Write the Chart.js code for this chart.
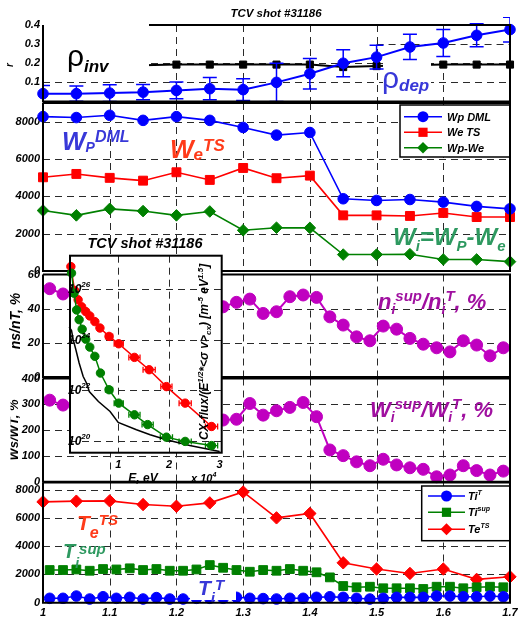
<!DOCTYPE html>
<html>
<head>
<meta charset="utf-8">
<script src="https://cdn.jsdelivr.net/npm/chart.js@4.4.1/dist/chart.umd.min.js"></script>
<style>
  html, body { margin: 0; padding: 0; background: #fff; }
  #wrap { position: relative; width: 522px; height: 619px; overflow: hidden; background: #fff; }
  #wrap canvas { position: absolute; left: 0; top: 0; }
</style>
</head>
<body>
<div id="wrap">
  <canvas id="cRho" width="522" height="619"></canvas>
  <canvas id="cEnergy" width="522" height="619"></canvas>
  <canvas id="cDens" width="522" height="619"></canvas>
  <canvas id="cWrat" width="522" height="619"></canvas>
  <canvas id="cTemp" width="522" height="619"></canvas>
  <canvas id="cFlux" width="522" height="619"></canvas>
</div>
<script>
// ---------- time bases (s) ----------
const shotTimes = [1.00, 1.05, 1.10, 1.15, 1.20, 1.25, 1.30, 1.35, 1.40, 1.45, 1.50, 1.55, 1.60, 1.65, 1.70];
const fineTimes = [1.01, 1.03, 1.05, 1.07, 1.09, 1.11, 1.13, 1.15, 1.17, 1.19, 1.21, 1.23, 1.25, 1.27, 1.29, 1.31, 1.33, 1.35,
                   1.37, 1.39, 1.41, 1.43, 1.45, 1.47, 1.49, 1.51, 1.53, 1.55, 1.57, 1.59, 1.61, 1.63, 1.65, 1.67, 1.69];
const timeTicks = [1.0, 1.1, 1.2, 1.3, 1.4, 1.5, 1.6, 1.7];
const timeTickLabels = ['1', '1.1', '1.2', '1.3', '1.4', '1.5', '1.6', '1.7'];

// ---------- deposition and inversion radius ----------
const rhoDep    = [0.041, 0.041, 0.044, 0.049, 0.058, 0.067, 0.062, 0.100, 0.145, 0.200, 0.232, 0.285, 0.306, 0.346, 0.376];
const rhoDepErr = [0.043, 0.040, 0.044, 0.040, 0.044, 0.058, 0.057, 0.100, 0.080, 0.070, 0.062, 0.066, 0.071, 0.060, 0.065];
const rhoInvTimes = [1.15, 1.20, 1.25, 1.30, 1.35, 1.40, 1.45, 1.50, 1.55, 1.60, 1.65, 1.70];
const rhoInv      = [0.190, 0.193, 0.193, 0.193, 0.193, 0.193, 0.180, 0.185, 0.190, 0.193, 0.193, 0.193];
const rhoTicks  = [0.1, 0.2, 0.3, 0.4];
const rhoLabels = ['0.1', '0.2', '0.3', '0.4'];

// ---------- stored energy (J) ----------
const wpDML = [8270, 8220, 8340, 8070, 8270, 8070, 7690, 7280, 7420, 3870, 3780, 3830, 3690, 3460, 3330];
const weTS  = [5020, 5200, 4990, 4840, 5290, 4880, 5520, 4970, 5110, 2980, 2980, 2950, 3110, 2890, 2890];
const wiDiff = [3240, 2980, 3330, 3210, 2980, 3190, 2180, 2320, 2310, 880, 880, 900, 620, 620, 500];
const energyTicks  = [0, 2000, 4000, 6000, 8000];
const energyLabels = ['0', '2000', '4000', '6000', '8000'];

// ---------- suprathermal fractions (%) ----------
const nRatio = [51.7, 48.6, null, null, null, null, null, null, null, null, null, null, null,
                41.1, 43.7, 45.6, 37.2, 38.2, 47.0, 48.0, 46.6, 35.2, 30.4, 23.5, 21.2, 29.8, 28.0,
                22.6, 19.2, 17.1, 14.7, 21.2, 18.7, 12.4, 17.1];
const nTicks  = [0, 20, 40, 60];
const nLabels = ['0', '20', '40', '60'];
const wRatio = [316, 297, null, null, null, null, null, null, null, null, null, null, null,
                239, 242, 303, 258, 275, 288, 307, 252, 123, 101, 77, 62, 87, 65,
                54, 48, 19, 26, 62, 43, 26, 41];
const wTicks  = [0, 100, 200, 300, 400];
const wLabels = ['0', '100', '200', '300', '400'];

// ---------- temperatures (eV) ----------
const teTS  = [7130, 7180, 7200, 6940, 6820, 7060, 7830, 6000, 6310, 2820, 2380, 2070, 2380, 1650, 1830];
const tiSup = [2310, 2310, 2350, 2260, 2380, 2350, 2430, 2310, 2380, 2260, 2260, 2350, 2660, 2470, 2310, 2190, 2310, 2260,
               2380, 2260, 2150, 1790, 1180, 1090, 1130, 1020, 1020, 1020, 970, 1130, 1130, 1020, 1090, 1130, 1090];
const tiT   = [310, 310, 470, 260, 420, 310, 380, 260, 360, 260, 260, 310, 310, 310, 380, 310, 290, 260,
               310, 310, 380, 420, 380, 310, 260, 310, 380, 380, 380, 470, 470, 420, 420, 470, 420];
const tempTicks  = [0, 2000, 4000, 6000, 8000];
const tempLabels = ['0', '2000', '4000', '6000', '8000'];

// ---------- CX spectrum (E in 1e4 eV) ----------
const redE      = [0.067, 0.14, 0.21, 0.28, 0.36, 0.44, 0.54, 0.64, 0.82, 1.01, 1.32, 1.61, 1.95, 2.32, 2.84];
const redFlux   = [7.8e26, 8.9e25, 3.8e25, 2.0e25, 1.3e25, 8.7e24, 5.2e24, 2.9e24, 1.35e24, 6.9e23, 2.0e23, 6.5e22, 1.4e22, 3.1e21, 3.7e20];
const redErrE   = [0, 0, 0, 0, 0, 0, 0, 0, 0.07, 0.09, 0.11, 0.12, 0.11, 0.12, 0.12];
const greenE    = [0.08, 0.13, 0.18, 0.23, 0.29, 0.36, 0.44, 0.54, 0.65, 0.82, 1.01, 1.32, 1.58, 1.95, 2.32, 2.84];
const greenFlux = [4.3e26, 6.9e25, 1.5e25, 6.2e24, 2.6e24, 1.05e24, 5.1e23, 2.2e23, 4.8e22, 1.05e22, 3.1e21, 1.07e21, 4.4e20, 1.4e20, 9.5e19, 6.5e19];
const greenErrE = [0, 0, 0, 0, 0, 0, 0, 0, 0, 0.07, 0.09, 0.11, 0.11, 0.12, 0.12, 0.12];
const blackE    = [0.034, 0.08, 0.113, 0.166, 0.23, 0.31, 0.377, 0.43, 0.61, 0.84, 1.0, 1.36, 1.63, 1.95, 2.41, 3.0];
const blackFlux = [3.2e24, 2.3e24, 1.0e24, 4.0e23, 1.2e23, 3.5e22, 1.9e22, 8.9e21, 3.6e21, 1.45e21, 5.4e20, 2.75e20, 1.74e20, 1.1e20, 6.5e19, 3.8e19];
const fluxTicks = [1e20, 1e22, 1e24, 1e26];
const fluxExp   = ['20', '22', '24', '26'];
const energyKeVTicks  = [1, 2, 3];
const energyKeVLabels = ['1', '2', '3'];

// ---------- shared styling ----------
const FAMILY = '"Liberation Sans", Arial, Helvetica, sans-serif';
const TICK_FONT = { family: FAMILY, size: 11, style: 'italic', weight: 'bold' };
const BLUE = '#0000ff', RED = '#ff0000', GREEN = '#008000', PURPLE = '#c000c0';
const T_BLUE = '#3838d8', T_RED = '#ff3b1a', T_GREEN = '#2e9960', T_PURPLE = '#a010a0';
const GRID = '#2a2a2a';

const pts = (xs, ys) => xs.map((x, i) => ({ x: x, y: ys[i] }));
const fnt = (size, weight, style) => `${style || 'italic'} ${weight || 'bold'} ${size}px ${FAMILY}`;

// text with sub/superscript runs: parts = [[text, 0|1|2]] (0 normal, 1 sub, 2 sup)
function drawRich(ctx, parts, x, y, o) {
  const segs = parts.map(([t, k]) => ({
    t, k, f: fnt(k === 1 ? (o.subSize || o.small) : k === 2 ? (o.supSize || o.small) : o.size)
  }));
  let w = 0;
  segs.forEach(s => { ctx.font = s.f; s.w = ctx.measureText(s.t).width; w += s.w; });
  let cx = o.align === 'center' ? x - w / 2 : o.align === 'right' ? x - w : x;
  ctx.fillStyle = o.color || '#000';
  ctx.textAlign = 'left';
  ctx.textBaseline = 'alphabetic';
  segs.forEach(s => {
    ctx.font = s.f;
    const dy = s.k === 1 ? (o.subDy || 0) : s.k === 2 ? -(o.supDy || 0) : 0;
    ctx.fillText(s.t, cx, y + dy);
    cx += s.w;
  });
  return w;
}

function drawMarker(ctx, kind, x, y, r, color) {
  ctx.save();
  ctx.fillStyle = color;
  ctx.beginPath();
  if (kind === 'circle') ctx.arc(x, y, r, 0, Math.PI * 2);
  else if (kind === 'rect') ctx.rect(x - r, y - r, 2 * r, 2 * r);
  else { ctx.moveTo(x, y - r); ctx.lineTo(x + r, y); ctx.lineTo(x, y + r); ctx.lineTo(x - r, y); ctx.closePath(); }
  ctx.fill();
  ctx.restore();
}

function drawLegend(ctx, box, entries) {
  ctx.save();
  ctx.fillStyle = '#fff';
  ctx.fillRect(box.x, box.y, box.w, box.h);
  ctx.strokeStyle = '#000';
  ctx.lineWidth = 1.5;
  ctx.strokeRect(box.x, box.y, box.w, box.h);
  entries.forEach(e => {
    ctx.strokeStyle = e.color;
    ctx.lineWidth = 1.5;
    ctx.beginPath();
    ctx.moveTo(box.lx0, e.y); ctx.lineTo(box.lx1, e.y);
    ctx.stroke();
    drawMarker(ctx, e.marker, (box.lx0 + box.lx1) / 2, e.y, e.r, e.color);
    drawRich(ctx, e.parts, box.tx, e.y + 4, { size: 11, small: 7, supDy: 5, color: '#000' });
  });
  ctx.restore();
}

function dashedLine(ctx, x0, y0, x1, y1) {
  ctx.beginPath(); ctx.moveTo(x0, y0); ctx.lineTo(x1, y1); ctx.stroke();
}

// per-panel decoration: dashed grid, frame, extra drawing hooks
function panelPlugin(o) {
  return {
    id: 'decor_' + o.name,
    beforeDatasetsDraw(chart) {
      const { ctx, chartArea: a, scales: { x, y } } = chart;
      ctx.save();
      ctx.strokeStyle = GRID;
      ctx.lineWidth = 1;
      ctx.setLineDash([7, 5]);
      (o.vGrid || []).forEach(v => {
        const px = Math.round(x.getPixelForValue(v)) + 0.5;
        dashedLine(ctx, px, a.top, px, a.bottom);
      });
      (o.hGrid || []).forEach(g => {
        const val = typeof g === 'number' ? g : g.v;
        const x0 = (typeof g === 'object' && g.from != null) ? x.getPixelForValue(g.from) : a.left;
        const py = Math.round(y.getPixelForValue(val)) + 0.5;
        dashedLine(ctx, x0, py, a.right, py);
      });
      ctx.restore();
    },
    beforeDatasetDraw(chart, args) {
      if (o.between && args.index === 0) o.between(chart);
    },
    afterDatasetsDraw(chart) {
      if (o.over) o.over(chart);
    },
    afterDraw(chart) {
      const { ctx, chartArea: a } = chart;
      ctx.save();
      ctx.strokeStyle = '#000';
      ctx.lineWidth = 2;
      ctx.setLineDash([]);
      ctx.beginPath();
      const topStart = o.topStart != null ? o.topStart : a.left;
      ctx.moveTo(topStart, a.top); ctx.lineTo(a.right, a.top);
      ctx.lineTo(a.right, a.bottom); ctx.lineTo(a.left, a.bottom);
      ctx.lineTo(a.left, a.top);
      ctx.stroke();
      ctx.restore();
      if (o.after) o.after(chart);
    }
  };
}

function makePanel(id, o) {
  return new Chart(document.getElementById(id), {
    type: 'line',
    data: { datasets: o.datasets },
    options: {
      responsive: false, animation: false, devicePixelRatio: 1, events: [],
      layout: { padding: { left: 0, right: 12, top: o.top, bottom: o.padBottom } },
      plugins: { legend: { display: false }, tooltip: { enabled: false } },
      elements: { line: { tension: 0 } },
      scales: {
        x: {
          type: 'linear', min: 1, max: 1.7, display: !!o.showX,
          afterFit: s => { s.height = o.showX ? 16 : 0; },
          afterBuildTicks: s => { s.ticks = timeTicks.map(v => ({ value: v })); },
          ticks: { autoSkip: false, maxRotation: 0, padding: 4, font: TICK_FONT, color: '#000',
                   callback: (v, i) => timeTickLabels[i] },
          grid: { display: false, drawTicks: false }, border: { display: false }
        },
        y: {
          type: 'linear', min: o.yMin, max: o.yMax,
          afterFit: s => { s.width = 43; },
          afterBuildTicks: s => { s.ticks = o.yTicks.map(v => ({ value: v })); },
          ticks: { padding: 3, font: TICK_FONT, color: '#000', callback: (v, i) => o.yLabels[i] },
          grid: { display: false, drawTicks: false }, border: { display: false }
        }
      }
    },
    plugins: [panelPlugin(o)]
  });
}

const series = (xs, ys, color, style, r, extra) => Object.assign({
  data: pts(xs, ys), borderColor: color, backgroundColor: color, pointBackgroundColor: color,
  pointBorderColor: color, pointBorderWidth: 1, borderWidth: 1.6, pointStyle: style,
  pointRadius: r, clip: false, spanGaps: true
}, extra || {});

// ---------- panel 1: radii ----------
makePanel('cRho', {
  name: 'rho', top: 25, padBottom: 619 - 101.5, yMin: 0, yMax: 0.4,
  yTicks: rhoTicks, yLabels: rhoLabels, topStart: 149,
  vGrid: [1.2, 1.3, 1.4, 1.5, 1.6],
  hGrid: [0.1, 0.2, { v: 0.3, from: 1.5 }],
  datasets: [
    series(shotTimes, rhoDep, BLUE, 'circle', 5.3, { borderWidth: 2 }),
    series(rhoInvTimes, rhoInv, '#000', 'rect', 5, { borderWidth: 2, spanGaps: false })
  ],
  between(chart) {
    const { ctx, chartArea: a, scales: { x, y } } = chart;
    ctx.save();
    ctx.fillStyle = '#fff';
    ctx.fillRect(a.left + 1, a.top - 2, 149 - a.left - 1, 72 - a.top + 2);
    ctx.fillRect(383, 59, 48, a.bottom - 60);
    // error bars of the deposition radius
    ctx.beginPath(); ctx.rect(a.left, a.top - 8, a.width, a.height + 8); ctx.clip();
    ctx.strokeStyle = BLUE; ctx.lineWidth = 1.5;
    shotTimes.forEach((t, i) => {
      const px = x.getPixelForValue(t);
      const y0 = y.getPixelForValue(rhoDep[i] - rhoDepErr[i]);
      const y1 = y.getPixelForValue(rhoDep[i] + rhoDepErr[i]);
      ctx.beginPath();
      ctx.moveTo(px, y0); ctx.lineTo(px, y1);
      ctx.moveTo(px - 7, y0); ctx.lineTo(px + 7, y0);
      ctx.moveTo(px - 7, y1); ctx.lineTo(px + 7, y1);
      ctx.stroke();
    });
    ctx.restore();
  },
  after(chart) {
    const { ctx } = chart;
    ctx.save();
    drawRich(ctx, [['TCV shot #31186', 0]], 276, 17, { size: 11.5, align: 'center' });
    ctx.fillStyle = '#000';
    ctx.font = `normal normal 30px ${FAMILY}`;
    ctx.fillText('\u03C1', 67, 66);
    drawRich(ctx, [['inv', 0]], 84, 72, { size: 17 });
    ctx.fillStyle = T_BLUE;
    ctx.font = `normal normal 30px ${FAMILY}`;
    ctx.fillText('\u03C1', 382, 88);
    drawRich(ctx, [['dep', 0]], 399, 91, { size: 17, color: T_BLUE });
    ctx.translate(13, 65); ctx.rotate(-Math.PI / 2);
    drawRich(ctx, [['r', 0]], 0, 0, { size: 10, align: 'center' });
    ctx.restore();
  }
});

// ---------- panel 2: stored energies ----------
makePanel('cEnergy', {
  name: 'energy', top: 103, padBottom: 619 - 271, yMin: 0, yMax: 9000,
  yTicks: energyTicks, yLabels: energyLabels,
  vGrid: [1.1, 1.2, 1.3, 1.4, 1.5, 1.6],
  hGrid: [2000, 4000, 6000, 8000],
  datasets: [
    series(shotTimes, wpDML, BLUE, 'circle', 5.3),
    series(shotTimes, weTS, RED, 'rect', 6.3),
    series(shotTimes, wiDiff, GREEN, 'rectRot', 5.8)
  ],
  over(chart) {
    const { ctx } = chart;
    ctx.save();
    drawRich(ctx, [['W', 0], ['P', 1], ['DML', 2]], 62, 150,
      { size: 25, subSize: 14, supSize: 16, subDy: 2, supDy: 8, color: T_BLUE });
    drawRich(ctx, [['W', 0], ['e', 1], ['TS', 2]], 170, 158,
      { size: 25, subSize: 17, supSize: 17, subDy: 2, supDy: 7, color: T_RED });
    drawRich(ctx, [['W', 0], ['i', 1], ['=W', 0], ['P', 1], ['-W', 0], ['e', 1]], 393, 245,
      { size: 24, subSize: 15, subDy: 6, color: T_GREEN });
    drawLegend(ctx, { x: 400, y: 105, w: 110, h: 52, lx0: 404, lx1: 442, tx: 447 }, [
      { y: 116.7, color: BLUE, marker: 'circle', r: 5.5, parts: [['Wp DML', 0]] },
      { y: 132.3, color: RED, marker: 'rect', r: 4.6, parts: [['We TS', 0]] },
      { y: 147.7, color: GREEN, marker: 'diamond', r: 5.8, parts: [['Wp-We', 0]] }
    ]);
    ctx.restore();
  }
});

// ---------- panel 3: density fraction ----------
makePanel('cDens', {
  name: 'dens', top: 274.5, padBottom: 619 - 377, yMin: 0, yMax: 60,
  yTicks: nTicks, yLabels: nLabels,
  vGrid: [1.1, 1.2, 1.3, 1.4, 1.5, 1.6],
  hGrid: [20, 40],
  datasets: [series(fineTimes, nRatio, PURPLE, 'circle', 6, { borderWidth: 2 })],
  over(chart) {
    const { ctx } = chart;
    ctx.save();
    drawRich(ctx, [['n', 0], ['i', 1], ['sup', 2], ['/n', 0], ['i', 1], ['T', 2], [', %', 0]], 378, 309,
      { size: 22, subSize: 14, supSize: 15, subDy: 5, supDy: 8, color: T_PURPLE });
    ctx.translate(20, 321); ctx.rotate(-Math.PI / 2);
    drawRich(ctx, [['ns/nT, %', 0]], 0, 0, { size: 14, align: 'center' });
    ctx.restore();
  }
});

// ---------- panel 4: energy fraction ----------
makePanel('cWrat', {
  name: 'wrat', top: 378.5, padBottom: 619 - 481.7, yMin: 0, yMax: 400,
  yTicks: wTicks, yLabels: wLabels,
  vGrid: [1.1, 1.2, 1.3, 1.4, 1.5, 1.6],
  hGrid: [100, 200, 300],
  datasets: [series(fineTimes, wRatio, PURPLE, 'circle', 6, { borderWidth: 2 })],
  over(chart) {
    const { ctx } = chart;
    ctx.save();
    drawRich(ctx, [['W', 0], ['i', 1], ['sup', 2], ['/W', 0], ['i', 1], ['T', 2], [', %', 0]], 370, 417,
      { size: 22, subSize: 14, supSize: 15, subDy: 5, supDy: 8, color: T_PURPLE });
    ctx.beginPath(); ctx.rect(10.5, 380, 40, 100); ctx.clip();
    ctx.translate(18, 430); ctx.rotate(-Math.PI / 2);
    drawRich(ctx, [['Ws/WT, %', 0]], 0, 0, { size: 13, align: 'center' });
    ctx.restore();
  }
});

// ---------- panel 5: temperatures ----------
makePanel('cTemp', {
  name: 'temp', top: 482.5, padBottom: 0.3, yMin: 0, yMax: 8500, showX: true,
  yTicks: tempTicks, yLabels: tempLabels,
  vGrid: [1.1, 1.2, 1.3, 1.4, 1.5, 1.6],
  hGrid: [2000, 4000, 6000, 8000],
  datasets: [
    series(fineTimes, tiT, BLUE, 'circle', 5.3),
    series(fineTimes, tiSup, GREEN, 'rect', 6.2),
    series(shotTimes, teTS, RED, 'rectRot', 6.2)
  ],
  over(chart) {
    const { ctx } = chart;
    ctx.save();
    drawRich(ctx, [['T', 0], ['e', 1], ['TS', 2]], 77, 530,
      { size: 21, subSize: 16, supSize: 15, subDy: 8, supDy: 5, color: T_RED });
    drawRich(ctx, [['T', 0], ['i', 1], ['sup', 2]], 63, 558,
      { size: 20, subSize: 14, supSize: 15, subDy: 10, supDy: 4, color: T_GREEN });
    ctx.fillStyle = '#fff';
    ctx.fillRect(190, 576, 46, 24);
    drawRich(ctx, [['T', 0], ['i', 1], ['T', 2]], 198, 595,
      { size: 21, subSize: 15, supSize: 15, subDy: 8, supDy: 5, color: T_BLUE });
    drawLegend(ctx, { x: 421.7, y: 486, w: 88.3, h: 54.7, lx0: 428, lx1: 465, tx: 468 }, [
      { y: 496, color: BLUE, marker: 'circle', r: 5.5, parts: [['Ti', 0], ['T', 2]] },
      { y: 512.3, color: GREEN, marker: 'rect', r: 4.6, parts: [['Ti', 0], ['sup', 2]] },
      { y: 529.3, color: RED, marker: 'diamond', r: 6, parts: [['Te', 0], ['TS', 2]] }
    ]);
    ctx.restore();
  }
});

// ---------- inset: CX energy spectrum ----------
new Chart(document.getElementById('cFlux'), {
  type: 'line',
  data: {
    datasets: [
      series(greenE, greenFlux, GREEN, 'circle', 4.2, { borderWidth: 1.5 }),
      series(redE, redFlux, RED, 'circle', 4.2, { borderWidth: 1.5 }),
      series(blackE, blackFlux, '#000', 'circle', 0, { borderWidth: 1.5 })
    ]
  },
  options: {
    responsive: false, animation: false, devicePixelRatio: 1, events: [],
    layout: { padding: { left: 70, right: 522 - 221.7, top: 255.7, bottom: 619 - 452.7 } },
    plugins: { legend: { display: false }, tooltip: { enabled: false } },
    elements: { line: { tension: 0 } },
    scales: {
      x: { type: 'linear', min: 0.05, max: 3.04, display: false, afterFit: s => { s.height = 0; } },
      y: { type: 'logarithmic', min: 3.4e19, max: 2.1e27, display: false, afterFit: s => { s.width = 0; } }
    }
  },
  plugins: [{
    id: 'insetDecor',
    beforeDraw(chart) {
      const { ctx, chartArea: a } = chart;
      ctx.save();
      ctx.fillStyle = '#fff';
      ctx.fillRect(a.left, a.top, a.width, a.height);
      ctx.restore();
    },
    beforeDatasetsDraw(chart) {
      const { ctx, chartArea: a, scales: { x, y } } = chart;
      ctx.save();
      ctx.strokeStyle = GRID; ctx.lineWidth = 1; ctx.setLineDash([7, 5]);
      [1, 2].forEach(v => { const px = Math.round(x.getPixelForValue(v)) + 0.5; dashedLine(ctx, px, a.top, px, a.bottom); });
      fluxTicks.forEach(v => { const py = Math.round(y.getPixelForValue(v)) + 0.5; dashedLine(ctx, a.left, py, a.right, py); });
      ctx.setLineDash([]);
      // horizontal energy error bars
      const bars = (es, fs, errs, color) => {
        ctx.strokeStyle = color; ctx.lineWidth = 1.3;
        es.forEach((e, i) => {
          if (!errs[i]) return;
          const x0 = x.getPixelForValue(e - errs[i]), x1 = x.getPixelForValue(e + errs[i]);
          const py = y.getPixelForValue(fs[i]);
          ctx.beginPath();
          ctx.moveTo(x0, py); ctx.lineTo(x1, py);
          ctx.moveTo(x0, py - 3); ctx.lineTo(x0, py + 3);
          ctx.moveTo(x1, py - 3); ctx.lineTo(x1, py + 3);
          ctx.stroke();
        });
      };
      bars(redE, redFlux, redErrE, RED);
      bars(greenE, greenFlux, greenErrE, GREEN);
      ctx.restore();
    },
    afterDraw(chart) {
      const { ctx, chartArea: a, scales: { x, y } } = chart;
      ctx.save();
      ctx.strokeStyle = '#000'; ctx.lineWidth = 2;
      ctx.strokeRect(a.left, a.top, a.width, a.height);
      drawRich(ctx, [['TCV shot #31186', 0]], 145, 248, { size: 14.5, align: 'center' });
      fluxTicks.forEach((v, i) => {
        drawRich(ctx, [['10', 0], [fluxExp[i], 2]], 68, y.getPixelForValue(v) + 4,
          { size: 12, small: 8, supDy: 6 });
      });
      energyKeVTicks.forEach((v, i) => {
        drawRich(ctx, [[energyKeVLabels[i], 0]], x.getPixelForValue(v), 468, { size: 11, align: 'center' });
      });
      drawRich(ctx, [['E, eV', 0]], 143, 482, { size: 12, align: 'center' });
      drawRich(ctx, [['x 10', 0], ['4', 2]], 191, 482, { size: 11, small: 7, supDy: 5 });
      ctx.translate(208, 352); ctx.rotate(-Math.PI / 2);
      drawRich(ctx, [['CX-flux/(E', 0], ['1/2', 2], ['*<\u03C3 v>', 0], ['cx', 1], [') [m', 0], ['-5', 2],
                     [' eV', 0], ['1.5', 2], [']', 0]], 0, 0,
        { size: 12, small: 8, subDy: 3, supDy: 5, align: 'center' });
      ctx.restore();
    }
  }]
});
</script>
</body>
</html>
